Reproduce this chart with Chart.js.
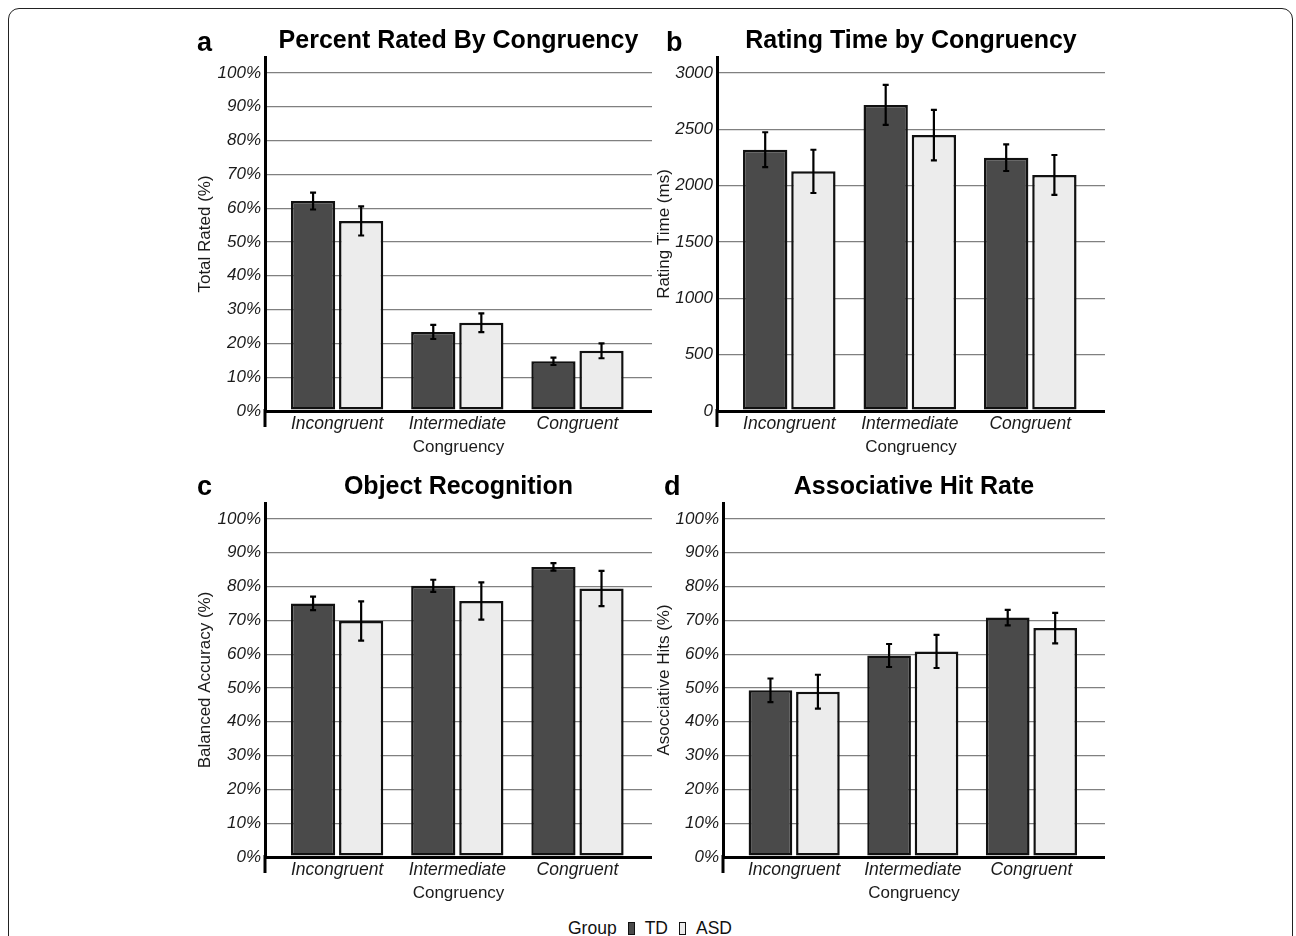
<!DOCTYPE html>
<html>
<head>
<meta charset="utf-8">
<script src="https://cdn.jsdelivr.net/npm/chart.js@4.4.1/dist/chart.umd.min.js"></script>
<style>
  html, body { margin: 0; padding: 0; background: #fff; }
  #fig { position: relative; width: 1296px; height: 936px; overflow: hidden;
         font-family: "Liberation Sans", Arial, sans-serif; color: #000; }
  #frame { position: absolute; left: 8px; top: 8px; width: 1283px; height: 980px;
           border: 1.6px solid #222; border-radius: 11px; }
  canvas.panel { position: absolute; }
  .letter { position: absolute; font-weight: bold; font-size: 27px; line-height: 27px; }
  #legend { position: absolute; left: 568px; top: 918px; height: 20px; font-size: 17.5px;
            line-height: 20px; white-space: nowrap; display: flex; align-items: center; color: #111; }
  .sw { display: inline-block; width: 5px; height: 11px; border: 1.6px solid #111; margin: 0 10px 0 11px; }
</style>
</head>
<body>
<div id="fig">
  <div id="frame"></div>
  <canvas id="cA" class="panel" width="505" height="448" style="left:150px;top:10px"></canvas>
  <canvas id="cB" class="panel" width="500" height="448" style="left:610px;top:10px"></canvas>
  <canvas id="cC" class="panel" width="505" height="448" style="left:150px;top:456px"></canvas>
  <canvas id="cD" class="panel" width="500" height="448" style="left:610px;top:456px"></canvas>
  <div class="letter" style="left:197px;top:29px">a</div>
  <div class="letter" style="left:666px;top:29px">b</div>
  <div class="letter" style="left:197px;top:473px">c</div>
  <div class="letter" style="left:664px;top:473px">d</div>
  <div id="legend">Group<span class="sw" style="background:#4a4a4a"></span>TD<span class="sw" style="background:#ececec"></span>ASD</div>
</div>
<script>
// Categories, groups and tick values
const categories = ['Incongruent', 'Intermediate', 'Congruent'];
const groups = ['TD', 'ASD'];
const pctTicks = [0, 10, 20, 30, 40, 50, 60, 70, 80, 90, 100];
const msTicks = [0, 500, 1000, 1500, 2000, 2500, 3000];

// a: percent rated (mean, SE)
const ratedTD = [62.1, 23.4, 14.7];
const ratedTDErr = [2.5, 2.1, 1.1];
const ratedASD = [56.2, 26.1, 17.8];
const ratedASDErr = [4.3, 2.8, 2.2];

// b: rating time in ms (mean, SE)
const timeTD = [2319, 2717, 2248];
const timeTDErr = [155, 178, 118];
const timeASD = [2127, 2449, 2095];
const timeASDErr = [192, 224, 177];

// c: object recognition balanced accuracy (mean, SE)
const recogTD = [75.0, 80.2, 85.8];
const recogTDErr = [2.0, 1.8, 1.1];
const recogASD = [69.8, 75.7, 79.4];
const recogASDErr = [5.8, 5.5, 5.2];

// d: associative hits (mean, SE)
const hitTD = [49.3, 59.6, 70.8];
const hitTDErr = [3.5, 3.4, 2.3];
const hitASD = [48.9, 60.8, 67.7];
const hitASDErr = [5.0, 4.9, 4.5];

const groupFill = { TD: '#4a4a4a', ASD: '#ececec' };

Chart.defaults.font.family = '"Liberation Sans", Arial, sans-serif';
Chart.defaults.color = '#1a1a1a';

// Mean +/- SE whiskers on top of each bar
const errorBars = {
  id: 'errorBars',
  afterDatasetsDraw(chart) {
    const ctx = chart.ctx;
    const y = chart.scales.y;
    chart.data.datasets.forEach((ds, i) => {
      const meta = chart.getDatasetMeta(i);
      meta.data.forEach((bar, j) => {
        const v = ds.data[j].y, e = ds.errors[j];
        const top = y.getPixelForValue(v + e);
        const bot = y.getPixelForValue(v - e);
        ctx.save();
        ctx.strokeStyle = '#000';
        ctx.lineWidth = 2.2;
        ctx.beginPath();
        ctx.moveTo(bar.x, top); ctx.lineTo(bar.x, bot);
        ctx.moveTo(bar.x - 3, top); ctx.lineTo(bar.x + 3, top);
        ctx.moveTo(bar.x - 3, bot); ctx.lineTo(bar.x + 3, bot);
        ctx.stroke();
        ctx.restore();
      });
    });
  }
};

// Vertical axis line continues a little below the baseline
const axisTail = {
  id: 'axisTail',
  afterDraw(chart) {
    const { ctx, chartArea } = chart;
    ctx.save();
    ctx.strokeStyle = '#000';
    ctx.lineWidth = 3;
    ctx.beginPath();
    ctx.moveTo(chartArea.left, chartArea.bottom - 2);
    ctx.lineTo(chartArea.left, chartArea.bottom + 16);
    ctx.stroke();
    ctx.restore();
  }
};

function makePanel(id, o) {
  const toPts = arr => arr.map((v, i) => ({ x: i, y: v }));
  return new Chart(document.getElementById(id), {
    type: 'bar',
    data: {
      datasets: [
        { label: groups[0], data: toPts(o.td), errors: o.tdErr, backgroundColor: groupFill.TD },
        { label: groups[1], data: toPts(o.asd), errors: o.asdErr, backgroundColor: groupFill.ASD }
      ]
    },
    options: {
      responsive: false,
      animation: false,
      events: [],
      layout: { padding: { left: o.padLeft, right: o.padRight, top: 0, bottom: 0 } },
      datasets: {
        bar: {
          borderColor: '#111',
          borderWidth: 2.5,
          borderSkipped: false,
          categoryPercentage: 0.8,
          barPercentage: 0.92
        }
      },
      plugins: {
        legend: { display: false },
        tooltip: { enabled: false },
        title: {
          display: true,
          text: o.title,
          fullSize: false,
          color: '#000',
          font: { size: 25, weight: 'bold' },
          padding: { top: 16, bottom: 1 }
        }
      },
      scales: {
        x: {
          type: 'linear',
          min: -0.6,
          max: 2.62,
          offset: false,
          grid: { display: false, drawTicks: false },
          border: { display: false },
          afterBuildTicks(scale) { scale.ticks = categories.map((c, i) => ({ value: i })); },
          afterFit(scale) { scale.height = 47; },
          ticks: {
            autoSkip: false,
            maxRotation: 0,
            padding: 3,
            color: '#1a1a1a',
            font: { size: 17.5, style: 'italic' },
            callback: v => categories[v]
          },
          title: { display: true, text: 'Congruency', color: '#1a1a1a', padding: 0, font: { size: 17 } }
        },
        y: {
          type: 'linear',
          min: 0,
          max: o.yMax,
          afterBuildTicks(scale) { scale.ticks = o.ticks.map(v => ({ value: v })); },
          afterFit(scale) { scale.width = o.yWidth; },
          grid: {
            drawTicks: false,
            color: c => (c.tick && c.tick.value === 0) ? '#000' : '#808080',
            lineWidth: c => (c.tick && c.tick.value === 0) ? 3 : 1.2
          },
          border: { display: true, color: '#000', width: 3 },
          ticks: {
            padding: 4,
            color: '#1a1a1a',
            font: { size: 17, style: 'italic' },
            callback: o.fmt
          },
          title: { display: true, text: o.yTitle, color: '#1a1a1a', padding: 0, font: { size: 17 } }
        }
      }
    },
    plugins: [errorBars, axisTail]
  });
}

const pctFmt = v => v + '%';
const msFmt = v => String(v);

makePanel('cA', { title: 'Percent Rated By Congruency', yTitle: 'Total Rated (%)',
  td: ratedTD, tdErr: ratedTDErr, asd: ratedASD, asdErr: ratedASDErr,
  ticks: pctTicks, yMax: 104.7, fmt: pctFmt, padLeft: 45, padRight: 3, yWidth: 70 });
makePanel('cB', { title: 'Rating Time by Congruency', yTitle: 'Rating Time (ms)',
  td: timeTD, tdErr: timeTDErr, asd: timeASD, asdErr: timeASDErr,
  ticks: msTicks, yMax: 3142, fmt: msFmt, padLeft: 44, padRight: 5, yWidth: 63 });
makePanel('cC', { title: 'Object Recognition', yTitle: 'Balanced Accuracy (%)',
  td: recogTD, tdErr: recogTDErr, asd: recogASD, asdErr: recogASDErr,
  ticks: pctTicks, yMax: 104.7, fmt: pctFmt, padLeft: 45, padRight: 3, yWidth: 70 });
makePanel('cD', { title: 'Associative Hit Rate', yTitle: 'Asocciative Hits (%)',
  td: hitTD, tdErr: hitTDErr, asd: hitASD, asdErr: hitASDErr,
  ticks: pctTicks, yMax: 104.7, fmt: pctFmt, padLeft: 44, padRight: 5, yWidth: 69 });
</script>
</body>
</html>
